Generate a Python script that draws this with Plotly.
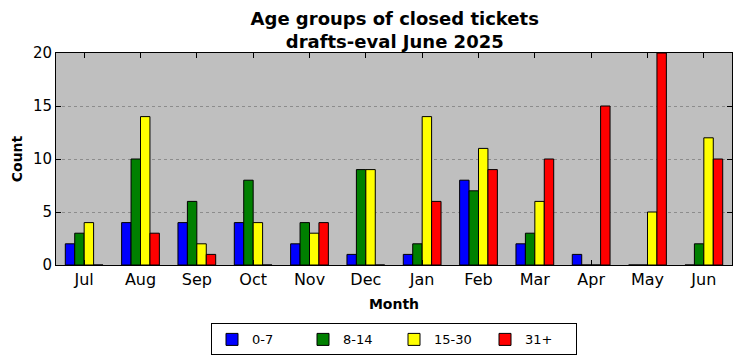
import plotly.graph_objects as go

months = ["Jul", "Aug", "Sep", "Oct", "Nov", "Dec", "Jan", "Feb", "Mar", "Apr", "May", "Jun"]
age_0_7 = [2, 4, 4, 4, 2, 1, 1, 8, 2, 1, 0, 0]
age_8_14 = [3, 10, 6, 8, 4, 9, 2, 7, 3, 0, 0, 2]
age_15_30 = [4, 14, 2, 4, 3, 9, 14, 11, 6, 0, 5, 12]
age_31_plus = [0, 3, 1, 0, 4, 0, 6, 9, 10, 15, 20, 10]
series_names = ["0-7", "8-14", "15-30", "31+"]
series_colors = ["#0000ff", "#008000", "#ffff00", "#ff0000"]
y_ticks = [0, 5, 10, 15, 20]

font = "DejaVu Sans, Verdana, sans-serif"

fig = go.Figure()
for name, vals, col in zip(series_names, [age_0_7, age_8_14, age_15_30, age_31_plus], series_colors):
    fig.add_trace(go.Bar(x=months, y=vals, name=name,
                         marker=dict(color=col, line=dict(color="black", width=1))))

fig.update_layout(
    width=742, height=361,
    barmode="group", bargap=0.33, bargroupgap=0,
    paper_bgcolor="white", plot_bgcolor="#bfbfbf",
    margin=dict(l=56, r=10, t=53, b=96),
    font=dict(family=font, color="black"),
    title=dict(text="<b>Age groups of closed tickets<br>drafts-eval June 2025</b>",
               x=0.532, xanchor="center", yref="container", y=0.931, yanchor="middle",
               font=dict(size=18, family=font)),
    xaxis=dict(title=dict(text="<b>Month</b>", font=dict(size=14), standoff=10),
               automargin=False,
               range=[-0.5, 11.5], showline=True, linecolor="black", linewidth=1, mirror="ticks",
               ticks="inside", ticklen=5, tickcolor="black", tickfont=dict(size=16),
               showgrid=False),
    yaxis=dict(title=dict(text="<b>Count</b>", font=dict(size=14), standoff=7),
               automargin=False,
               range=[0, 20], tickvals=y_ticks, showline=True, linecolor="black", linewidth=1,
               mirror="ticks", ticks="inside", ticklen=5, tickcolor="black",
               tickfont=dict(size=15), showgrid=True, gridcolor="#8c8c8c", griddash="dot",
               gridwidth=1, zeroline=False),
    legend=dict(orientation="h", xref="paper", x=0.5, xanchor="center",
                yref="container", y=0.104, yanchor="top",
                bordercolor="black", borderwidth=1, bgcolor="white",
                font=dict(size=13), entrywidth=46, entrywidthmode="pixels",
                traceorder="normal"),
)

fig.write_html("out.html", config={"displayModeBar": False},
               post_script="document.body.style.margin='0';")
